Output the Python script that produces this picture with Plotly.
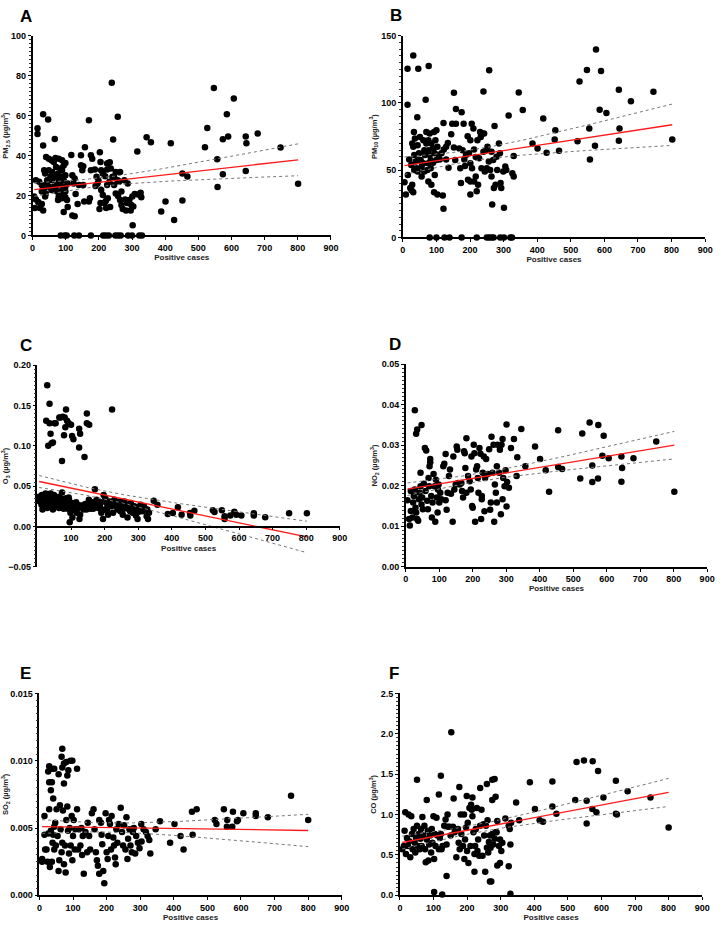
import numpy as np
import plotly.graph_objects as go

# ---------------- DATA ----------------
A_x = [15,15,32,47,32,67,170,239,257,243,344,357,417,316,547,607,586,527,520,574,590,643,645,679,748,801,643,574,557,558,452,467,452,401,388,427,302,
       85,97,103,126,140,176,213,221,230,250,258,266,288,300,322,330,
       5,10,7,17,22,28,32,10,20,28,35,28,40,38,44,38,35,49,41,49,57,64,69,71,59,54,69,77,79,74,64,57,49,44,59,69,74,79,77,89,94,99,104,94,106,106,89,84,94,99,89,79,99,87,94,84,99,89,99,84,
       117,120,127,124,130,120,127,136,140,146,146,153,153,150,158,156,170,173,176,180,176,188,193,196,190,199,203,205,207,212,207,212,217,222,205,202,225,229,233,225,219,232,225,227,221,234,236,241,246,251,257,246,251,258,264,264,261,268,268,272,277,287,279,285,282,292,298,296,301,308,304,326,328,318]
A_y = [53.6,50.8,60.7,58,45,48.3,57.7,76.4,59.4,48,49.2,46.7,46.2,42,73.8,68.6,60.7,53.8,44.2,48.2,49.5,49.5,46.2,51,44,25.9,32.3,30.7,38.1,24.3,31,29.5,17.5,17,12,7.8,5.1,
       0,0,0,0,0,0,0,0,0,0,0,0,0,0,0,0,
       19.5,18,13.7,16.7,13.7,15.7,12.5,27.7,26.9,25.2,23.6,22,21,19.5,25.7,31,32.7,32.7,39.3,38.4,37.6,36.8,38.8,34.3,31.8,29.4,29.4,31,27.7,25.2,24.4,22.8,24.4,27.7,27.7,23.6,22,19.5,17.8,18.6,19.8,19.1,17.8,11.7,14.2,26,32.7,33.5,35,36.3,37.6,38.4,30.2,29.4,27.7,26,24.4,22.8,22,21,
       40.3,30.2,28.5,26,20.8,10,9.6,15.8,25.2,40.1,35.1,34.6,25.2,32.7,44.2,17,17,18.6,40.1,38.4,32.7,33,29.4,26,24.8,27.4,41.7,36.8,32.7,31,22.8,20.3,16.2,13.7,16.2,13.2,36,36.3,36.6,33,29.7,26.9,25.2,18.6,17.3,14.2,33.5,29.4,29.4,31.8,27.7,25.2,21,19.8,17.8,31.8,26.9,22,15.3,13.2,27.7,26,18,16.2,12.5,17.8,15.3,12.5,19.5,20.8,14.5,21.4,19.1,20.5]

B_x = [14,31,46,77,14,68,43,257,152,240,158,175,315,345,357,418,526,548,575,590,586,606,643,679,746,802,645,643,555,520,572,557,454,452,465,386,401,428,330,301,266,121,273,121,
       80,100,124,139,175,220,250,257,264,270,290,301,320,325,
       5,9,15,22,26,28,31,19,25,34,41,38,34,31,28,33,36,44,48,46,53,56,44,56,64,61,66,64,51,61,70,70,76,80,85,77,80,83,76,90,83,73,95,90,97,100,93,103,100,107,95,76,85,93,103,119,110,115,
       122,129,134,129,144,147,158,152,156,136,168,178,181,183,171,173,185,188,193,201,205,210,197,201,206,194,201,201,212,217,224,220,212,217,222,230,232,237,242,227,234,240,247,252,250,256,260,264,269,271,276,281,279,286,289,291,293,299,305,308,326,330,244,264]
B_y = [125.4,135.2,125.4,127.4,98.7,102.4,89.4,124.2,107.6,108.5,95.5,93.1,90.6,107.8,94.8,88.4,115.9,124.5,139.7,123.7,95,92.6,109.8,101.2,108.3,72.8,80.9,71.8,80.9,71.5,68.1,58,79.6,72.8,64.4,69.8,66.1,63,60.5,22,24.5,21.3,82.8,85,
       0,0,0,0,0,0,0,0,0,0,0,0,0,0,
       41,31.9,46.5,36.8,35,39.2,33.6,58,53.9,50.2,51.5,56.4,61.3,67.4,69.8,78.4,73.5,68.6,62.5,57.6,57.6,52.7,49,45.3,49,55.1,61.3,64.9,74.7,72.3,69.8,78.4,72.3,77.2,69.8,64.9,61.3,57.6,55.1,55.6,51.5,50.2,62.5,66.1,72.3,79.6,78.4,67.4,57.6,61.3,46.5,41.6,39.2,33.6,31.9,31.1,58,62.5,
       65.4,67.4,70.3,58,76.7,84.5,84.5,66.9,57.6,51.9,66.1,64.9,84.5,58,51.5,40.4,53.2,61.3,75.2,72.3,84.5,80.9,62.5,55.1,51.5,42.9,41.6,31.9,41.6,45.3,39.2,34.3,65.4,59.8,72.3,78.4,74.7,77.2,77.2,58.8,51.5,63.7,64.9,67.4,51.5,56.4,50.2,63.7,57.6,36.8,39.2,50.2,60,69.8,62.5,40.4,36.8,49,52.7,50.2,47.8,45.3,49,45.3]

C_x = [29,36,26,36,51,39,32,42,46,65,75,85,81,88,93,100,83,79,103,107,73,124,127,124,140,147,147,154,222,54,68,
       346,357,388,403,418,429,454,455,467,522,527,549,557,557,574,586,592,607,644,644,678,749,802,
       5,7,13,15,17,22,24,27,29,34,36,39,42,44,46,49,51,54,56,59,64,65,68,71,73,75,78,81,85,88,91,93,96,98,101,104,107,112,117,122,125,127,132,137,142,146,153,159,166,171,176,181,186,190,195,197,202,205,208,210,215,220,225,229,234,239,244,249,254,259,264,268,273,278,283,288,293,298,303,307,312,317,325,327,329,332,
       12,19,31,47,62,77,94,110,128,150,163,178,192,212,231,247,262,281,297,314,
       9,16,23,33,40,52,58,70,82,90,105,115,135,158,170,185,200,218,236,252,270,286,300,320,
       20,44,61,97,120,143,168,188,207,226,243,258,276,292,309]
C_y = [0.175,0.152,0.131,0.128,0.128,0.115,0.100,0.103,0.104,0.135,0.136,0.145,0.135,0.131,0.128,0.126,0.123,0.113,0.112,0.108,0.081,0.121,0.115,0.098,0.086,0.140,0.128,0.126,0.145,0.128,0.135,
       0.032,0.027,0.0155,0.0168,0.0237,0.0147,0.0168,0.0135,0.0196,0.020,0.018,0.020,0.0127,0.0094,0.0135,0.0184,0.0147,0.0135,0.0164,0.0135,0.0115,0.0164,0.0164,
       0.037,0.031,0.039,0.021,0.033,0.035,0.041,0.029,0.023,0.037,0.031,0.041,0.027,0.034,0.021,0.039,0.030,0.037,0.025,0.033,0.023,0.037,0.029,0.025,0.042,0.034,0.022,0.028,0.035,0.031,0.025,0.036,0.0053,0.017,0.029,0.011,0.021,0.027,0.017,0.023,0.0094,0.0147,0.025,0.021,0.028,0.021,0.033,0.029,0.022,0.046,0.033,0.023,0.028,0.017,0.0094,0.039,0.035,0.029,0.023,0.0147,0.031,0.025,0.017,0.033,0.027,0.021,0.031,0.025,0.0147,0.031,0.023,0.011,0.021,0.029,0.017,0.025,0.0135,0.0094,0.022,0.027,0.019,0.025,0.0127,0.021,0.0094,0.017,
       0.027,0.032,0.034,0.026,0.030,0.024,0.033,0.020,0.026,0.024,0.030,0.027,0.020,0.026,0.030,0.019,0.027,0.024,0.020,0.023,
       0.033,0.036,0.030,0.028,0.035,0.032,0.026,0.031,0.027,0.022,0.024,0.030,0.026,0.022,0.028,0.025,0.021,0.027,0.024,0.019,0.026,0.022,0.018,0.020,
       0.028,0.025,0.031,0.024,0.027,0.023,0.025,0.030,0.020,0.029,0.022,0.027,0.019,0.024,0.021]

D_x = [27,34,31,47,301,345,323,314,333,331,301,357,386,401,418,428,455,455,467,521,527,549,557,557,575,574,591,587,606,644,646,644,680,748,802,
       5,10,12,15,15,20,22,24,27,29,31,34,37,39,41,44,44,47,49,51,54,57,61,59,64,66,68,71,73,73,70,76,78,80,83,86,88,90,93,95,96,98,100,103,106,112,115,119,119,122,125,129,132,135,140,142,145,149,152,154,156,161,166,168,171,174,176,178,181,181,186,191,194,196,198,200,203,205,207,210,213,215,217,220,223,225,227,227,230,233,235,237,240,245,249,252,254,256,259,262,264,266,269,272,272,274,279,281,284,286,289,289,291,295,298,303,308]
D_y = [0.0386,0.0339,0.0328,0.035,0.0351,0.034,0.0315,0.0293,0.027,0.0224,0.0149,0.0248,0.0297,0.0266,0.0238,0.0185,0.0337,0.0246,0.0241,0.0218,0.0329,0.0356,0.025,0.0209,0.035,0.0218,0.0323,0.0274,0.0268,0.0272,0.0244,0.021,0.0268,0.0309,0.0185,
       0.0164,0.0118,0.0102,0.0187,0.0138,0.0122,0.0159,0.0175,0.0191,0.0146,0.0134,0.0118,0.0114,0.0167,0.0183,0.0232,0.0199,0.0154,0.0171,0.0142,0.0205,0.0293,0.0287,0.0187,0.0163,0.0142,0.0219,0.0248,0.0258,0.0266,0.0199,0.0175,0.0122,0.0159,0.0229,0.0199,0.0111,0.0215,0.0171,0.0134,0.0191,0.0203,0.0159,0.0183,0.0167,0.0248,0.0254,0.0278,0.0164,0.0141,0.0183,0.0224,0.024,0.018,0.0111,0.0272,0.0191,0.0203,0.0297,0.0289,0.0207,0.0203,0.0207,0.0187,0.0171,0.0285,0.028,0.0244,0.0317,0.0183,0.0224,0.0211,0.0191,0.0272,0.015,0.0146,0.0301,0.028,0.0111,0.024,0.0248,0.0219,0.0183,0.0293,0.0279,0.0118,0.0167,0.0175,0.0232,0.0272,0.0137,0.0219,0.0266,0.0229,0.029,0.0141,0.0159,0.0321,0.0232,0.0301,0.0111,0.0203,0.0183,0.0248,0.0159,0.0301,0.0232,0.0289,0.013,0.0301,0.0315,0.0167,0.0219,0.0199,0.0238,0.0209,0.0195]

E_x = [26,29,37,44,29,37,34,41,57,68,66,68,73,80,86,92,98,83,73,112,
       346,359,389,402,420,429,456,454,468,522,527,549,559,558,576,574,588,591,607,644,644,680,749,800,
       8,8,15,15,17,21,24,27,29,31,34,37,39,41,44,44,47,49,51,54,57,59,61,63,66,68,70,73,76,78,80,83,85,88,90,93,96,98,100,102,105,107,112,115,117,122,125,127,129,132,137,142,144,148,151,156,161,164,168,171,174,178,178,183,185,187,190,193,197,200,203,205,207,210,213,215,220,222,225,227,229,232,236,242,246,249,252,256,259,262,264,268,271,275,278,281,285,288,293,298,303,304,310,317,322,327,330]
E_y = [0.0092,0.0096,0.0094,0.0094,0.0084,0.0084,0.0078,0.0072,0.009,0.0109,0.0103,0.0095,0.0098,0.0099,0.0093,0.01,0.01,0.0089,0.0083,0.0094,
       0.0049,0.0055,0.0039,0.0053,0.0044,0.0034,0.0045,0.0062,0.0064,0.0056,0.0053,0.0064,0.0056,0.0051,0.0062,0.0051,0.0055,0.0056,0.0061,0.0061,0.0059,0.0058,0.0074,0.0056,
       0.0027,0.0025,0.0059,0.0045,0.0034,0.0034,0.0025,0.0046,0.0064,0.0021,0.0048,0.0025,0.0039,0.0045,0.0051,0.0034,0.0054,0.0037,0.0064,0.0044,0.0018,0.0026,0.0067,0.0049,0.0032,0.0039,0.0063,0.0023,0.0037,0.0017,0.0056,0.0066,0.0048,0.0031,0.005,0.0037,0.0059,0.0026,0.0044,0.0056,0.0034,0.0049,0.0064,0.0034,0.0049,0.0037,0.005,0.003,0.0044,0.0016,0.0047,0.0032,0.0054,0.0044,0.0034,0.0061,0.0064,0.0049,0.0032,0.0026,0.0022,0.0016,0.0056,0.0054,0.0045,0.0038,0.0018,0.0009,0.0061,0.0032,0.0027,0.0044,0.0056,0.0053,0.0034,0.0059,0.0043,0.0037,0.0028,0.0023,0.0049,0.0039,0.0053,0.0065,0.0047,0.0037,0.0052,0.0034,0.0058,0.0027,0.0042,0.0049,0.0037,0.0032,0.0047,0.005,0.0031,0.0044,0.0039,0.0035,0.0053,0.004,0.0049,0.0047,0.0044,0.0041,0.0031]

F_x = [153,51,122,116,80,177,199,216,239,259,275,282,285,275,160,387,346,355,402,416,426,454,454,466,522,526,548,574,590,556,573,585,556,606,643,643,646,678,746,800,102,126,329,268,272,222,254,139,324,329,290,298,
       7,12,14,16,18,21,24,26,28,31,34,36,38,41,44,46,48,51,54,56,59,61,63,65,67,70,73,75,77,80,83,85,87,90,93,95,97,100,102,104,106,109,112,116,119,122,124,127,132,136,139,142,143,148,151,158,163,168,173,175,178,181,183,188,191,192,194,197,200,202,204,207,210,212,214,216,219,222,224,226,229,231,233,236,239,243,246,249,251,256,259,261,263,265,268,270,275,278,282,285,288,290,295,298,302,305,314,324,327,331]
F_y = [2.02,1.43,1.48,1.25,1.18,1.34,1.23,1.21,1.33,1.38,1.43,1.44,1.22,1.18,1.2,1.4,1.15,0.93,1.07,0.93,0.91,1.41,1.1,1.01,1.18,1.65,1.67,1.66,1.54,1.17,1.07,1.03,0.89,1.21,1.42,1.01,1.0,1.29,1.21,0.84,0.04,0.01,0.02,0.17,0.17,0.29,0.29,0.24,0.36,0.63,0.37,0.4,
       0.57,0.61,0.8,1.03,0.51,0.71,0.61,1.0,0.67,0.47,0.98,0.76,0.57,0.82,0.65,0.53,0.71,0.86,0.61,0.76,0.57,0.7,0.82,0.61,0.97,0.74,0.86,0.57,0.41,0.69,0.8,0.43,0.63,0.74,0.53,0.82,0.65,0.98,0.45,0.76,0.61,0.96,0.74,0.57,0.71,0.76,0.57,0.61,0.86,0.94,0.63,1.0,0.85,0.85,0.74,0.85,0.78,0.47,0.82,0.65,0.57,1.0,0.76,0.61,1.0,0.45,0.69,0.84,0.55,0.9,0.4,1.08,0.61,1.12,1.06,0.98,0.78,0.51,0.61,0.82,1.08,0.55,0.69,0.49,0.86,1.06,0.49,0.88,0.74,0.86,0.59,0.93,0.53,0.66,0.74,0.59,0.76,0.63,0.7,0.78,0.78,0.92,0.61,0.69,0.55,0.65,0.95,0.86,0.82,0.9]

PANEL_LETTERS = ["A", "B", "C", "D", "E", "F"]
Y_TITLES = ["PM<sub>2.5</sub> (µg/m<sup>3</sup>)", "PM<sub>10</sub> (µg/m<sup>3</sup>)",
            "O<sub>3</sub> (µg/m<sup>3</sup>)", "NO<sub>2</sub> (µg/m<sup>3</sup>)",
            "SO<sub>2</sub> (µg/m<sup>3</sup>)", "CO (µg/m<sup>3</sup>)"]
X_TITLE = "Positive cases"
Y_RANGES = [(0, 100, 20), (0, 150, 50), (-0.05, 0.20, 0.05), (0, 0.05, 0.01), (0, 0.015, 0.005), (0, 2.5, 0.5)]
Y_FORMATS = ["d", "d", ".2f", ".2f", ".3f", ".1f"]

# ---------------- LAYOUT GEOMETRY (pixels) ----------------
W, H = 724, 925
# (left, right, top, bottom) of each plot area in pixels
BOXES = [(30, 333, 31, 233), (406, 713, 31, 235), (35, 342, 364, 568),
         (409, 715, 363, 568), (37, 344, 696, 900), (403, 710, 696, 900)]
LETTER_POS = [(23, 12), (399, 11), (23, 344), (398, 343), (23, 676), (397, 676)]

FONT = "Liberation Sans, Arial, sans-serif"
datasets = [(A_x, A_y), (B_x, B_y), (C_x, C_y), (D_x, D_y), (E_x, E_y), (F_x, F_y)]

fig = go.Figure()

def fx(p):
    return p / W

def fy(p):
    return 1 - p / H

for i, (xs, ys) in enumerate(datasets):
    k = "" if i == 0 else str(i + 1)
    xa, ya = "x" + k, "y" + k
    xs = np.asarray(xs, float)
    ys = np.asarray(ys, float)
    # linear regression with 95% confidence band
    n = len(xs)
    b, a = np.polyfit(xs, ys, 1)
    resid = ys - (a + b * xs)
    s = np.sqrt(np.sum(resid ** 2) / (n - 2))
    xbar = xs.mean()
    sxx = np.sum((xs - xbar) ** 2)
    xl = np.linspace(xs.min(), xs.max(), 80)
    yl = a + b * xl
    half = 1.97 * s * np.sqrt(1 / n + (xl - xbar) ** 2 / sxx)

    fig.add_trace(go.Scatter(x=xs, y=ys, mode="markers", xaxis=xa, yaxis=ya,
                             marker=dict(color="black", size=6.5, line=dict(width=0)),
                             cliponaxis=False, showlegend=False, hoverinfo="skip"))
    for yy in (yl + half, yl - half):
        fig.add_trace(go.Scatter(x=xl, y=yy, mode="lines", xaxis=xa, yaxis=ya,
                                 line=dict(color="#777777", width=1, dash="dot"),
                                 showlegend=False, hoverinfo="skip"))
    fig.add_trace(go.Scatter(x=xl, y=yl, mode="lines", xaxis=xa, yaxis=ya,
                             line=dict(color="#ff1a1a", width=1.3), showlegend=False,
                             hoverinfo="skip"))

    L, R, T, B = BOXES[i]
    y0, y1, dy = Y_RANGES[i]
    xaxis = dict(domain=[fx(L), fx(R)], range=[0, 900], anchor=ya,
                 showline=True, linecolor="black", linewidth=1.5, mirror=False,
                 ticks="outside", ticklen=3, tickwidth=1.2, tickcolor="black",
                 tickvals=list(range(0, 1000, 100)), showgrid=False, zeroline=False,
                 tickfont=dict(family=FONT, size=9, color="black", weight="bold"),
                 title=dict(text=X_TITLE, standoff=2,
                            font=dict(family=FONT, size=8, color="#222", weight="bold")))
    yvals = list(np.round(np.arange(y0, y1 + dy / 2, dy), 6))
    yaxis = dict(domain=[fy(B), fy(T)], range=[y0, y1], anchor=xa,
                 showline=True, linecolor="black", linewidth=1.5,
                 ticks="outside", ticklen=3, tickwidth=1.2, tickcolor="black",
                 tickvals=yvals, tickformat=Y_FORMATS[i], showgrid=False, zeroline=False,
                 minor=dict(ticks="outside", ticklen=2, tickwidth=0.8, tickcolor="#333",
                            dtick=dy / 10, showgrid=False),
                 tickfont=dict(family=FONT, size=9, color="black", weight="bold"),
                 title=dict(text=Y_TITLES[i], standoff=3,
                            font=dict(family=FONT, size=7.5, color="#222", weight="bold")))
    if i == 2:
        # O3 panel: x axis crosses at y = 0
        pos = fy(B) + (0 - y0) / (y1 - y0) * (fy(T) - fy(B))
        xaxis.update(anchor="free", position=pos, tickvals=list(range(100, 1000, 100)))
    fig.update_layout({"xaxis" + k: xaxis, "yaxis" + k: yaxis})

    lx, ly = LETTER_POS[i]
    fig.add_annotation(x=fx(lx), y=fy(ly), xref="paper", yref="paper", text=PANEL_LETTERS[i],
                       showarrow=False, xanchor="center", yanchor="middle",
                       font=dict(family=FONT, size=17, color="black", weight="bold"))

fig.update_layout(width=W, height=H, margin=dict(l=0, r=0, t=0, b=0),
                  paper_bgcolor="white", plot_bgcolor="white", showlegend=False)

fig.write_html("out.html", config={"displayModeBar": False},
               post_script="document.body.style.margin='0';document.body.style.padding='0';")
